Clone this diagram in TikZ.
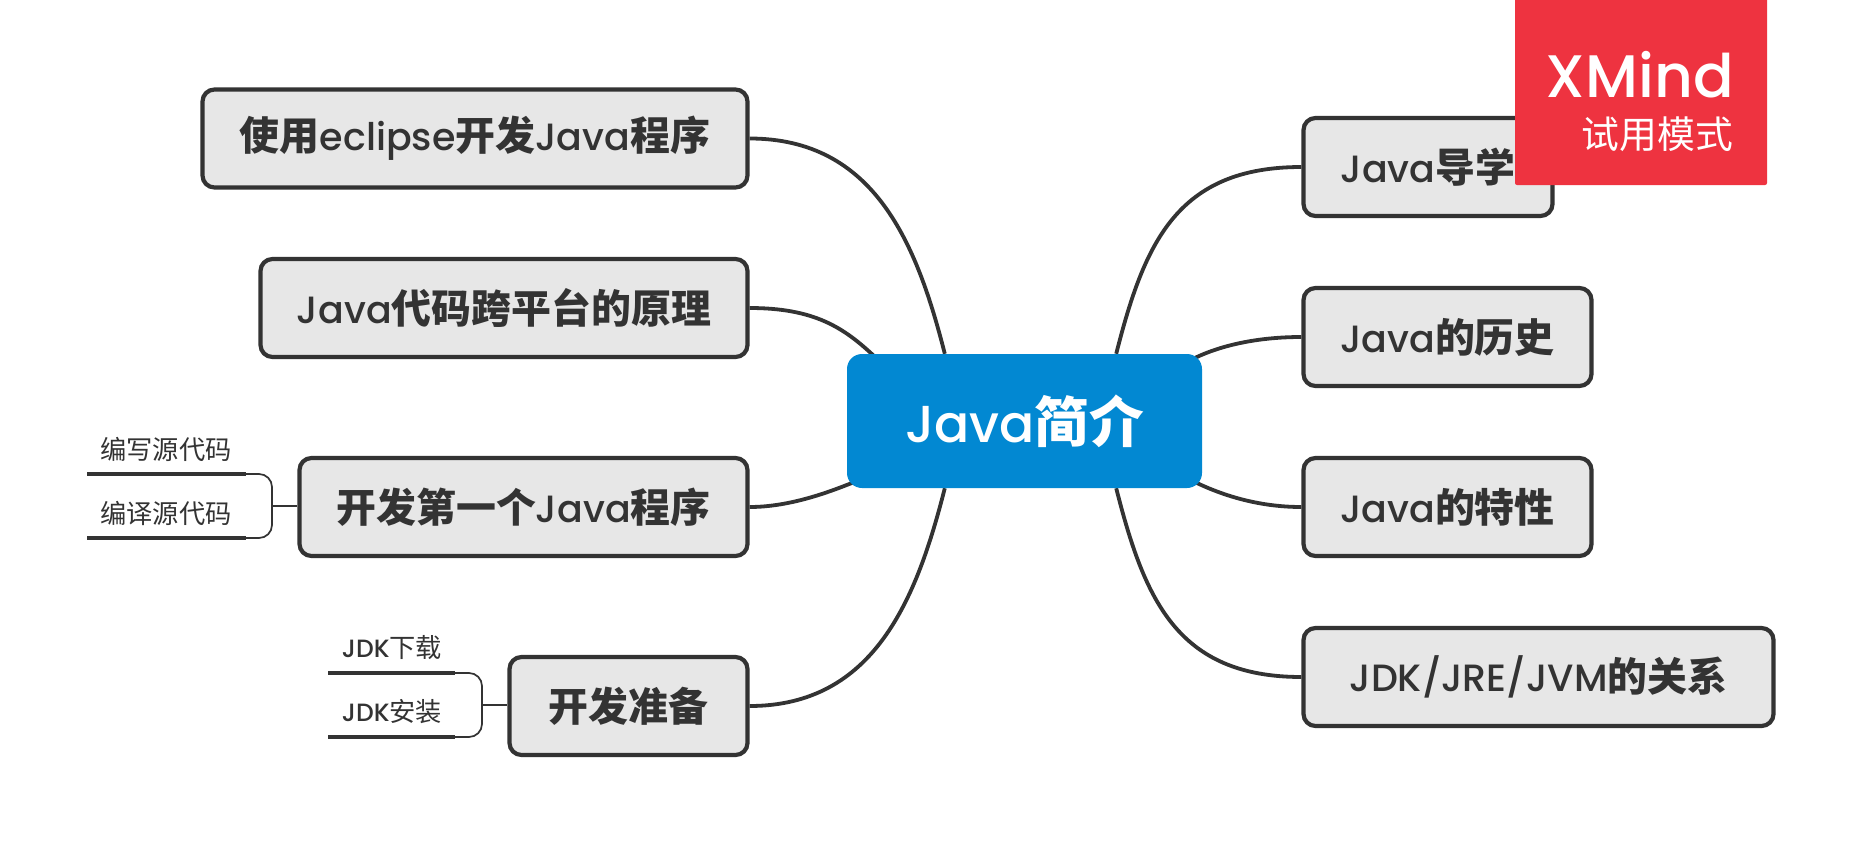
\documentclass[tikz,border=0pt]{standalone}
\usepackage{fontspec}
\setmainfont{Poppins Medium}
\newfontfamily\cjk[Scale=1.05]{Noto Sans CJK SC}
\usetikzlibrary{backgrounds,calc}
\definecolor{ink}{HTML}{333333}
\definecolor{boxfill}{HTML}{E7E7E7}
\definecolor{rootblue}{HTML}{0288D2}
\definecolor{xred}{HTML}{EE3340}
\newcommand{\Z}[1]{{\cjk\bfseries #1}}
\newcommand{\ZL}[1]{{\cjk #1}}
\tikzset{
  x=1pt,y=-1pt,
  topicbox/.style={draw=ink,line width=4.2pt,fill=boxfill,rounded corners=12pt,text=ink,
    font=\fontsize{38}{43}\selectfont,inner sep=0pt,align=center},
  rootbox/.style={fill=rootblue,rounded corners=15pt,text=white,
    font=\fontsize{52}{58}\selectfont,inner sep=0pt,minimum width=355pt,minimum height=134pt},
  subtext/.style={text=ink,font=\fontsize{25}{30}\selectfont,inner sep=0pt},
  branch/.style={draw=ink,line width=3.8pt},
  underl/.style={draw=ink,line width=3.4pt},
  brace/.style={draw=ink,line width=1.7pt,rounded corners=13pt},
  stem/.style={draw=ink,line width=2pt},
}
\begin{document}
\begin{tikzpicture}
\useasboundingbox (0,0) rectangle (1861,843);
\node[rootbox] (root) at (1024.5,421) {Java\Z{简介}};
% left topics
\node[topicbox,minimum width=545pt,minimum height=98pt] (a) at (475,138.5) {\Z{使用}eclipse\Z{开发}Java\Z{程序}};
\node[topicbox,minimum width=487pt,minimum height=98pt] (b) at (504,308) {Java\Z{代码跨平台的原理}};
\node[topicbox,minimum width=448pt,minimum height=98pt] (c) at (523.5,507) {\Z{开发第一个}Java\Z{程序}};
\node[topicbox,minimum width=238pt,minimum height=98pt] (d) at (628.5,706) {\Z{开发准备}};
% right topics
\node[topicbox,minimum width=249pt,minimum height=98pt] (e) at (1428,167) {Java\Z{导学}};
\node[topicbox,minimum width=288pt,minimum height=98pt] (f) at (1447.5,337) {Java\Z{的历史}};
\node[topicbox,minimum width=288pt,minimum height=98pt] (g) at (1447.5,507) {Java\Z{的特性}};
\node[topicbox,minimum width=470pt,minimum height=98pt] (h) at (1538.5,677) {JDK/JRE/JVM\Z{的关系}};
% root attachment points
\coordinate (ra) at ($(root.north west)+(98,0)$);
\coordinate (rb) at ($(root.north west)+(27,2)$);
\coordinate (rc) at ($(root.south west)+(7,-6)$);
\coordinate (rd) at ($(root.south west)+(98,0)$);
\coordinate (re) at ($(root.north east)+(-86,0)$);
\coordinate (rf) at ($(root.north east)+(-7,4)$);
\coordinate (rg) at ($(root.south east)+(-7,-6)$);
\coordinate (rh) at ($(root.south east)+(-86,0)$);
\begin{scope}[on background layer]
\draw[branch] (a.east) .. controls +(125,0) and +(-28,-110) .. (ra);
\draw[branch] (b.east) .. controls +(65,0) and +(-30,-28) .. (rb);
\draw[branch] (c.east) .. controls +(40,0) and +(-25,10) .. (rc);
\draw[branch] (d.east) .. controls +(125,0) and +(-28,110) .. (rd);
\draw[branch] (e.west) .. controls +(-125,0) and +(28,-110) .. (re);
\draw[branch] (f.west) .. controls +(-45,0) and +(25,-12) .. (rf);
\draw[branch] (g.west) .. controls +(-45,0) and +(25,12) .. (rg);
\draw[branch] (h.west) .. controls +(-125,0) and +(28,110) .. (rh);
\end{scope}
% subtopics of c
\node[subtext] (c1) at (166,449) {\ZL{编写源代码}};
\node[subtext] (c2) at (166,513) {\ZL{编译源代码}};
\coordinate (c1l) at (87,474); \coordinate (c1r) at (246,474);
\coordinate (c2l) at (87,538); \coordinate (c2r) at (246,538);
\coordinate (cj) at (272,506);
\draw[brace] (c1r) -| (cj) |- (c2r);
\draw[underl] (c1l) -- (c1r);
\draw[underl] (c2l) -- (c2r);
\draw[stem] (cj) -- (cj -| c.west);
% subtopics of d
\node[subtext] (d1) at (392,648) {JDK\ZL{下载}};
\node[subtext] (d2) at (392,712) {JDK\ZL{安装}};
\coordinate (d1l) at (328,673); \coordinate (d1r) at (455,673);
\coordinate (d2l) at (328,737); \coordinate (d2r) at (455,737);
\coordinate (dj) at (482,705);
\draw[brace] (d1r) -| (dj) |- (d2r);
\draw[underl] (d1l) -- (d1r);
\draw[underl] (d2l) -- (d2r);
\draw[stem] (dj) -- (dj -| d.west);
% trial badge
\path[fill=xred,rounded corners=2pt] (1515,-5) rectangle (1767,185);
\node[anchor=base east,text=white,font=\fontsize{60}{60}\selectfont,inner sep=0pt] (xm) at (1734,98) {XMind};
\node[anchor=base east,text=white,font=\fontsize{36}{40}\selectfont,inner sep=0pt] (xt) at (1733,148) {\ZL{试用模式}};
\end{tikzpicture}
\end{document}
